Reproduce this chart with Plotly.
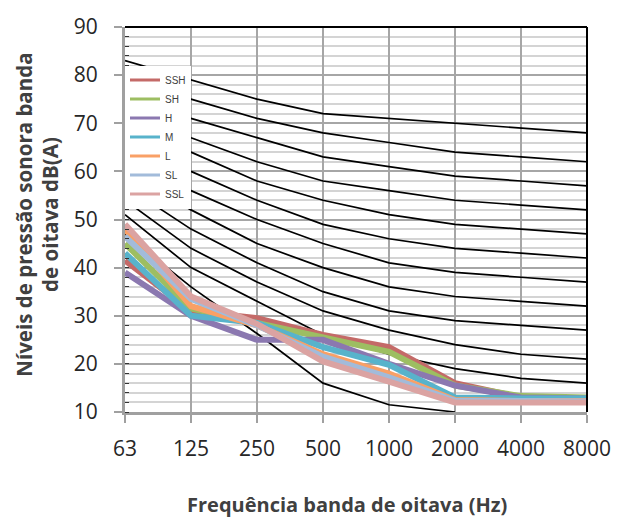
import plotly.graph_objects as go

# ---- data ----
freqs = ['63', '125', '250', '500', '1000', '2000', '4000', '8000']

nc15 = [47, 36, 26.3, 16, 11.5, 10, None, None]
nc20 = [51, 40, 33, 26, 22, 19, 17, 16]
nc25 = [54, 44, 37, 31, 27, 24, 22, 21]
nc30 = [57, 48, 41, 35, 31, 29, 28, 27]
nc35 = [60, 52, 45, 40, 36, 34, 33, 32]
nc40 = [64, 56, 50, 45, 41, 39, 38, 37]
nc45 = [67, 60, 54, 49, 46, 44, 43, 42]
nc50 = [71, 64, 58, 54, 51, 49, 48, 47]
nc55 = [74, 67, 62, 58, 56, 54, 53, 52]
nc60 = [77, 71, 67, 63, 61, 59, 58, 57]
nc65 = [80, 75, 71, 68, 66, 64, 63, 62]
nc70 = [83, 79, 75, 72, 71, 70, 69, 68]
nc_curves = [nc15, nc20, nc25, nc30, nc35, nc40, nc45, nc50, nc55, nc60, nc65, nc70]
nc_label_names = ['NC20', 'NC30', 'NC40', 'NC50', 'NC60', 'NC70']
nc_label_curves = [nc20, nc30, nc40, nc50, nc60, nc70]

series_names = ['SSH', 'SH', 'H', 'M', 'L', 'SL', 'SSL']
ssh = [41.5, 31, 29.5, 26, 23.5, 16, 13, 12.8]
sh = [45, 31.5, 28.5, 25.5, 22.5, 15.5, 13.3, 13]
h = [39, 30, 25, 25, 20, 15.5, 13, 12.8]
m = [43, 30, 28.5, 23.5, 19.8, 13, 12.8, 12.8]
l = [48, 32, 28, 22, 18, 12.5, 12.3, 12.3]
sl = [46.5, 33.5, 28, 21.5, 17.2, 12.3, 12.3, 12.2]
ssl = [49, 34, 28.3, 20.5, 16.3, 12, 12, 12]
series_values = [ssh, sh, h, m, l, sl, ssl]

y_ticks = [10, 20, 30, 40, 50, 60, 70, 80, 90]

# ---- styles ----
colors = ['#C46A68', '#9DBE62', '#8B78B0', '#58B3CB', '#F9A066', '#A2BBDA', '#DBA3A2']
text_color = '#404040'
tick_font = dict(family='Open Sans, Liberation Sans, sans-serif', size=21, color='#262626')

fig = go.Figure()

for curve in nc_curves:
    fig.add_trace(go.Scatter(x=freqs, y=curve, mode='lines',
                             line=dict(color='black', width=1.7),
                             showlegend=False, hoverinfo='skip'))

for name, vals, col in zip(series_names, series_values, colors):
    fig.add_trace(go.Scatter(x=freqs, y=vals, mode='lines', name=name,
                             line=dict(color=col, width=6), showlegend=False,
                             legendgroup=name))

# legend entries (thin sample lines, as in the reference legend)
for name, col in zip(series_names, colors):
    fig.add_trace(go.Scatter(x=[None], y=[None], mode='lines', name=name,
                             line=dict(color=col, width=3), legendgroup=name,
                             showlegend=True))

for name, curve in zip(nc_label_names, nc_label_curves):
    fig.add_annotation(x=freqs[-1], y=curve[-1] + 0.3, text=name, showarrow=False,
                       xanchor='left', yanchor='middle', xshift=16,
                       font=dict(family='Liberation Sans, Arial, sans-serif', size=13,
                                 color='#595959'))

# axis titles
fig.add_annotation(xref='paper', yref='paper', x=0.4805, y=-0.2397,
                   text='<b>Frequência banda de oitava (Hz)</b>', showarrow=False,
                   xanchor='center', yanchor='middle',
                   font=dict(family='Open Sans, sans-serif', size=20, color=text_color))
fig.add_annotation(xref='paper', yref='paper', x=-0.19, y=0.513,
                   text='<b>Níveis de pressão sonora banda<br>de oitava dB(A)</b>',
                   showarrow=False, textangle=-90, xanchor='center', yanchor='middle',
                   font=dict(family='Open Sans, sans-serif', size=20.5, color=text_color))

# black border top and right
fig.add_shape(type='line', xref='paper', yref='paper', x0=0, x1=1, y0=1, y1=1,
              line=dict(color='black', width=2), layer='above')
fig.add_shape(type='line', xref='paper', yref='paper', x0=1, x1=1, y0=0, y1=1,
              line=dict(color='black', width=2), layer='above')

fig.update_xaxes(type='category', range=[0, 7], showgrid=True, gridcolor='#A6A6A6',
                 gridwidth=2, showline=True, linecolor='#A0A0A0', linewidth=3,
                 ticks='outside', ticklen=8, tickcolor='#A0A0A0', tickwidth=2,
                 tickfont=tick_font, ticklabelstandoff=8, zeroline=False)
fig.update_yaxes(range=[10, 90], tickvals=y_ticks, showgrid=True, gridcolor='#A6A6A6',
                 gridwidth=2, showline=True, linecolor='#A0A0A0', linewidth=3,
                 ticks='outside', ticklen=8, tickcolor='#A0A0A0', tickwidth=2,
                 tickfont=tick_font, ticklabelstandoff=12, zeroline=False,
                 minor=dict(dtick=2, showgrid=True, gridcolor='#D4D4D4', gridwidth=2,
                            ticks='inside', ticklen=4, tickcolor='#333333', tickwidth=1))

fig.update_layout(
    width=643, height=518,
    margin=dict(l=125, r=56, t=24, b=106),
    paper_bgcolor='white', plot_bgcolor='white',
    showlegend=True,
    legend=dict(x=0.0, y=0.90, xanchor='left', yanchor='top',
                bgcolor='white', borderwidth=0,
                font=dict(family='Liberation Sans, Arial, sans-serif', size=10, color=text_color),
                itemwidth=30, tracegroupgap=0),
)

fig.write_html('out.html', config={'displayModeBar': False},
               post_script="document.body.style.margin='0';document.body.style.padding='0';")
